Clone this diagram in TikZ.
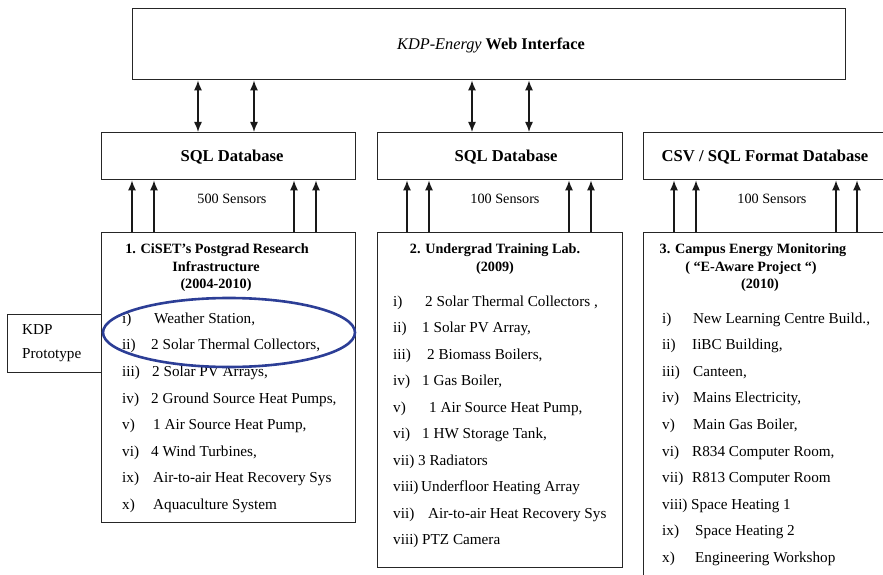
\documentclass[tikz,border=0pt]{standalone}
\usepackage{fontspec}
\setmainfont{Liberation Serif}
\usetikzlibrary{arrows.meta,shapes.geometric}
\definecolor{ringblue}{RGB}{44,62,150}
\begin{document}
\begin{tikzpicture}[x=1pt,y=-1pt,
  box/.style={draw=black!85, line width=1.35pt, rectangle, inner sep=0pt, anchor=north west},
  tip/.style={-{Latex[length=10pt,width=8pt]}, line width=1.4pt, black!90},
  both/.style={{Latex[length=10pt,width=8pt]}-{Latex[length=10pt,width=8pt]}, line width=1.4pt, black!90},
  item/.style={anchor=base west, inner sep=0pt, font=\fontsize{15.2}{18}\selectfont},
  head/.style={anchor=base, inner sep=0pt, font=\fontsize{14.2}{17}\selectfont\bfseries},
  dbtext/.style={anchor=base, inner sep=0pt, font=\fontsize{16.6}{19}\selectfont\bfseries},
  count/.style={anchor=base, inner sep=0pt, font=\fontsize{14.2}{17}\selectfont}]
\useasboundingbox (0,0) rectangle (883,575);
\clip (0,0) rectangle (883,575);

% web interface and databases
\node[box, minimum width=713pt, minimum height=71pt] (web) at (132,8) {};
\node[dbtext, font=\fontsize{16.3}{19}\selectfont] (webtxt) at (491,49.5) {\textit{KDP-Energy} \textbf{Web Interface}};

\node[box, minimum width=254pt, minimum height=47pt] (sql1) at (101,132) {};
\node[box, minimum width=245pt, minimum height=47pt] (sql2) at (377,132) {};
\node[box, minimum width=260pt, minimum height=47pt] (sql3) at (643,132) {};
\node[dbtext] (sql1txt) at (232,161.5) {SQL Database};
\node[dbtext] (sql2txt) at (506,161.5) {SQL Database};
\node[dbtext] (sql3txt) at (765,161.5) {CSV / SQL Format Database};

% sensor sites
\node[box, minimum width=254pt, minimum height=290pt] (lab1) at (101,232) {};
\node[box, minimum width=245pt, minimum height=335pt] (lab2) at (377,232) {};
\node[box, minimum width=260pt, minimum height=360pt] (lab3) at (643,232) {};

% prototype tag
\node[box, minimum width=94pt, minimum height=58pt] (kdp) at (7,314) {};
\node[item] (kdp1) at (22,334) {KDP};
\node[item] (kdp2) at (22,358) {Prototype};

% web <-> database links
\coordinate (w1) at (198,0);
\coordinate (w2) at (254,0);
\coordinate (w3) at (472,0);
\coordinate (w4) at (529,0);
\draw[both] (web.south -| w1) -- (sql1.north -| w1);
\draw[both] (web.south -| w2) -- (sql1.north -| w2);
\draw[both] (web.south -| w3) -- (sql2.north -| w3);
\draw[both] (web.south -| w4) -- (sql2.north -| w4);

% sensor feeds
\foreach \xa/\k in {132/a,154/b,294/c,316/d}{
  \coordinate (f1\k) at (\xa,0);
  \draw[tip] (lab1.north -| f1\k) -- (sql1.south -| f1\k);
}
\foreach \xa/\k in {407/a,429/b,569/c,591/d}{
  \coordinate (f2\k) at (\xa,0);
  \draw[tip] (lab2.north -| f2\k) -- (sql2.south -| f2\k);
}
\foreach \xa/\k in {674/a,696/b,836/c,857/d}{
  \coordinate (f3\k) at (\xa,0);
  \draw[tip] (lab3.north -| f3\k) -- (sql3.south -| f3\k);
}
\node[count] (n1) at (232,203.5) {500 Sensors};
\node[count] (n2) at (505,203.5) {100 Sensors};
\node[count] (n3) at (772,203.5) {100 Sensors};

% site 1
\node[head] (h1a) at (217,253) {1. CiSET’s Postgrad Research};
\node[head] (h1b) at (216,271) {Infrastructure};
\node[head] (h1c) at (216,288) {(2004-2010)};
\foreach \num/\tx/\txt [count=\k from 0] in {
  i)/154/{Weather Station,},
  ii)/151/{2 Solar Thermal Collectors,},
  iii)/152/{2 Solar PV Arrays,},
  iv)/151/{2 Ground Source Heat Pumps,},
  v)/153/{1 Air Source Heat Pump,},
  vi)/151/{4 Wind Turbines,},
  ix)/153/{Air-to-air Heat Recovery Sys},
  x)/153/{Aquaculture System}}{
  \node[item] (a\k) at (122,{323.3+26.6*\k}) {\num};
  \node[item] (at\k) at (\tx,{323.3+26.6*\k}) {\txt};
}

% site 2
\node[head] (h2a) at (495,253) {2. Undergrad Training Lab.};
\node[head] (h2b) at (495,271) {(2009)};
\foreach \num/\tx/\txt [count=\k from 0] in {
  i)/425/{2 Solar Thermal Collectors ,},
  ii)/422/{1 Solar PV Array,},
  iii)/427/{2 Biomass Boilers,},
  iv)/422/{1 Gas Boiler,},
  v)/429/{1 Air Source Heat Pump,},
  vi)/422/{1 HW Storage Tank,},
  vii)/418/{3 Radiators},
  viii)/421/{Underfloor Heating Array},
  vii)/428/{Air-to-air Heat Recovery Sys},
  viii)/422/{PTZ Camera}}{
  \node[item] (b\k) at (393,{306+26.55*\k}) {\num};
  \node[item] (bt\k) at (\tx,{306+26.55*\k}) {\txt};
}

% site 3
\node[head] (h3a) at (753,253) {3. Campus Energy Monitoring};
\node[head] (h3b) at (751,271) {( “E-Aware Project “)};
\node[head] (h3c) at (760,288) {(2010)};
\foreach \num/\tx/\txt [count=\k from 0] in {
  i)/693/{New Learning Centre Build.,},
  ii)/692/{IiBC Building,},
  iii)/693/{Canteen,},
  iv)/693/{Mains Electricity,},
  v)/693/{Main Gas Boiler,},
  vi)/692/{R834 Computer Room,},
  vii)/692/{R813 Computer Room},
  viii)/691/{Space Heating 1},
  ix)/695/{Space Heating 2},
  x)/695/{Engineering Workshop}}{
  \node[item] (c\k) at (662,{323+26.6*\k}) {\num};
  \node[item] (ct\k) at (\tx,{323+26.6*\k}) {\txt};
}

% highlight ring around the prototype sensors
\node[draw=ringblue, line width=2.6pt, ellipse, inner sep=0pt,
      minimum width=252pt, minimum height=69pt] (ring) at (229,332.5) {};
\end{tikzpicture}
\end{document}
